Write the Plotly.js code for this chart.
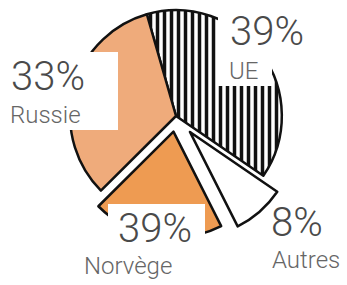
<!DOCTYPE html>
<html><head><meta charset="utf-8">
<script src="https://cdn.plot.ly/plotly-3.0.1.min.js"></script>
<style>html,body{margin:0;padding:0;overflow:hidden;background:#fff}#c{position:absolute;left:0;top:-30px;width:347px;height:315px}</style>
</head><body><div id="c"></div><script>
const categories = ['UE', 'Autres', 'Norvège', 'Russie'];
const values = [39, 8, 20, 33];
const pctLabels = ['39%', '8%', '39%', '33%'];

const W = 347, H = 315, OFF = 30;
const fx = p => p / W;
const fy = p => 1 - (p + OFF) / H;

const fills = ['#ffffff', '#ffffff', '#ee9b52', '#efab7b'];
const shapes = ['|', '', '', ''];
const pulls = [0, 0.2, 0.15, 0];

const trace = {
  type: 'pie',
  labels: categories,
  values: values,
  sort: false,
  direction: 'clockwise',
  rotation: -16,
  pull: pulls,
  textinfo: 'none',
  hoverinfo: 'label+percent',
  marker: {
    colors: fills,
    line: {color: '#111', width: 2.5},
    pattern: {shape: shapes, fgcolor: '#111', bgcolor: '#ffffff', size: 7, solidity: 0.5}
  },
  domain: {x: [fx(176 - 127), fx(176 + 127)], y: [fy(116 + 127), fy(116 - 127)]},
  showlegend: false
};

// white label backgrounds (screen pixel boxes)
const blobs = [[0, 52, 118, 130], [218, 12, 272, 86], [108, 204, 205, 248]];
const layoutShapes = blobs.map(b => ({
  type: 'rect', xref: 'paper', yref: 'paper', layer: 'above',
  x0: fx(b[0]), x1: fx(b[2]), y0: fy(b[3]), y1: fy(b[1]),
  fillcolor: '#ffffff', line: {width: 0}
}));

// label positions (screen pixels) per category
const pctPos = [[267, 32], [297, 222], [155, 228], [48, 76]];
const namePos = [[243, 71], [306, 260], [128, 266], [45, 115]];
const annotations = [];
categories.forEach((c, i) => {
  annotations.push({
    text: pctLabels[i], x: fx(pctPos[i][0]), y: fy(pctPos[i][1]), xref: 'paper', yref: 'paper',
    showarrow: false, xanchor: 'center', yanchor: 'middle',
    font: {family: 'Roboto', size: 40, color: '#4a4a4a', weight: 300}
  });
  annotations.push({
    text: c, x: fx(namePos[i][0]), y: fy(namePos[i][1]), xref: 'paper', yref: 'paper',
    showarrow: false, xanchor: 'center', yanchor: 'middle',
    font: {family: 'Roboto', size: 24, color: '#666666', weight: 300}
  });
});

Plotly.newPlot('c', [trace], {
  width: W, height: H,
  margin: {l: 0, r: 0, t: 0, b: 0},
  paper_bgcolor: '#ffffff',
  shapes: layoutShapes,
  annotations: annotations
}, {displayModeBar: false, staticPlot: true});
</script></body></html>
